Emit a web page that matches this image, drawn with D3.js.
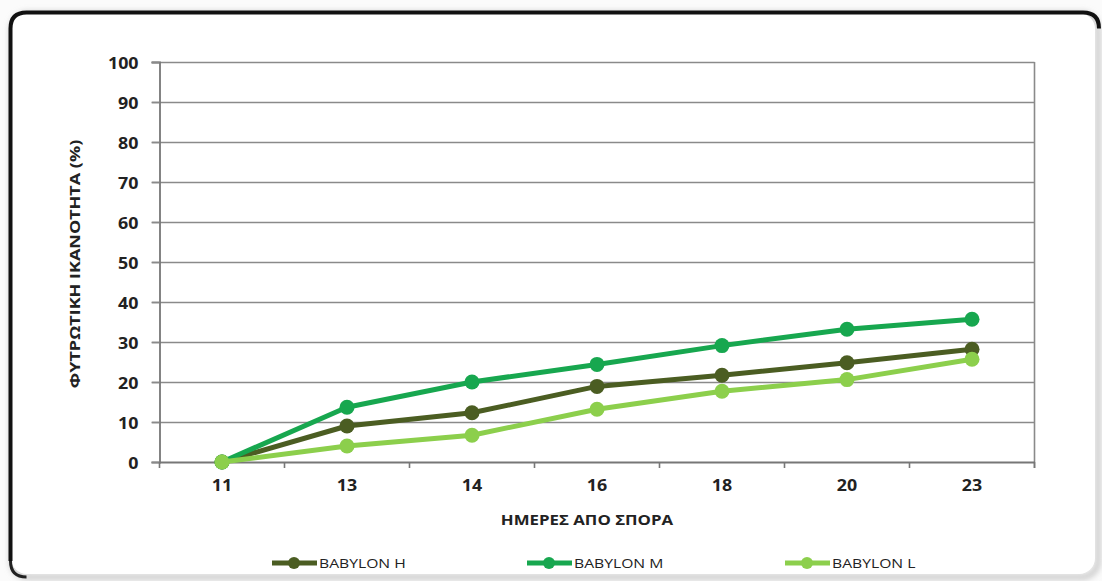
<!DOCTYPE html>
<html>
<head>
<meta charset="utf-8">
<script src="https://cdn.jsdelivr.net/npm/d3@7"></script>
<style>
  html, body { margin: 0; padding: 0; background: #fbfbfb; }
  svg { display: block; font-family: "Open Sans", "Liberation Sans", sans-serif; }
</style>
</head>
<body>
<svg id="chart" width="1102" height="581"></svg>
<script>
// ---- data ----
const categories = ["11", "13", "14", "16", "18", "20", "23"];
const seriesNames = ["BABYLON H", "BABYLON M", "BABYLON L"];
const babylonH = [0, 9.0, 12.3, 18.9, 21.7, 24.8, 28.2];
const babylonM = [0, 13.7, 20.0, 24.4, 29.1, 33.2, 35.7];
const babylonL = [0, 4.0, 6.7, 13.2, 17.7, 20.6, 25.7];
const yTicks = [0, 10, 20, 30, 40, 50, 60, 70, 80, 90, 100];
const yTitle = "ΦΥΤΡΩΤΙΚΗ ΙΚΑΝΟΤΗΤΑ (%)";
const xTitle = "ΗΜΕΡΕΣ ΑΠΟ ΣΠΟΡΑ";

const colors = ["#4b5d22", "#17a74f", "#8ccf4c"];
const series = [babylonH, babylonM, babylonL].map((vals, i) => ({
  name: seriesNames[i], color: colors[i],
  points: categories.map((c, j) => ({ c, v: vals[j] }))
}));

const svg = d3.select("#chart");
const SX = 1.15; // horizontal text stretch of the original picture

// ---- card background ----
const defs = svg.append("defs");
const blur = defs.append("filter").attr("id", "blur").attr("x", "-5%").attr("y", "-5%").attr("width", "110%").attr("height", "110%");
blur.append("feGaussianBlur").attr("stdDeviation", 3);
svg.append("rect").attr("x", 12).attr("y", 14).attr("width", 1086).attr("height", 563)
  .attr("rx", 16).attr("fill", "none").attr("stroke", "#b5b5b5").attr("stroke-width", 4)
  .attr("filter", "url(#blur)");
svg.append("rect").attr("x", 11).attr("y", 13).attr("width", 1084).attr("height", 561)
  .attr("rx", 16).attr("fill", "#ffffff");
const R = 16, L0 = 10.5, T0 = 12.5, Rx = 1099, Bx = 577;
svg.append("path")
  .attr("d", `M${L0},${Bx - R} L${L0},${T0 + R} Q${L0},${T0} ${L0 + R},${T0} L${Rx - R},${T0} Q${Rx},${T0} ${Rx},${T0 + R}`)
  .attr("fill", "none").attr("stroke", "#111").attr("stroke-width", 4);
svg.append("path")
  .attr("d", `M${L0},${Bx - R} Q${L0},${Bx} ${L0 + R},${Bx}`)
  .attr("fill", "none").attr("stroke", "#222").attr("stroke-width", 3);

// ---- scales ----
const x = d3.scaleBand().domain(categories).range([159.5, 1034.5]);
const y = d3.scaleLinear().domain([0, 100]).range([462, 62]);
const cx = c => x(c) + x.bandwidth() / 2;

// gridlines
svg.append("g").selectAll("line").data(yTicks.filter(t => t > 0)).join("line")
  .attr("x1", 152).attr("x2", x.range()[1])
  .attr("y1", d => Math.round(y(d)) + 0.5).attr("y2", d => Math.round(y(d)) + 0.5)
  .attr("stroke", "#8a8a8a").attr("stroke-width", 1.6);
svg.append("line").attr("x1", x.range()[1]).attr("x2", x.range()[1])
  .attr("y1", y(100)).attr("y2", y(0) + 6)
  .attr("stroke", "#8a8a8a").attr("stroke-width", 1.6);

// y axis
const yAxis = svg.append("g").attr("transform", `translate(${x.range()[0]},0)`)
  .call(d3.axisLeft(y).tickValues(yTicks).tickSize(8).tickPadding(0).tickFormat(d3.format("d")));
yAxis.select(".domain").attr("stroke", "#777").attr("stroke-width", 1.8);
yAxis.selectAll(".tick line").attr("stroke", "#8a8a8a").attr("stroke-width", 1.6);
yAxis.selectAll(".tick text")
  .attr("x", 0).attr("dy", null).attr("dominant-baseline", "central")
  .attr("transform", `translate(-21,0) scale(${SX},1)`)
  .attr("font-family", "'Open Sans', sans-serif")
  .attr("font-size", 15.5).attr("font-weight", 700).attr("fill", "#222");

// x axis
const xAxis = svg.append("g").attr("transform", `translate(0,${y(0)})`)
  .call(d3.axisBottom(x).tickSize(0).tickPadding(0));
xAxis.select(".domain").attr("stroke", "#777").attr("stroke-width", 2.2);
xAxis.selectAll(".tick text")
  .attr("y", 0).attr("dy", null)
  .attr("transform", `translate(0,29) scale(${SX},1)`)
  .attr("font-family", "'Open Sans', sans-serif")
  .attr("font-size", 15.5).attr("font-weight", 700).attr("fill", "#222");
const bounds = d3.range(categories.length + 1).map(i => x.range()[0] + i * x.step());
svg.append("g").selectAll("line").data(bounds).join("line")
  .attr("x1", d => d).attr("x2", d => d).attr("y1", y(0)).attr("y2", y(0) + 6)
  .attr("stroke", "#777").attr("stroke-width", 1.6);

// axis titles
svg.append("text")
  .attr("transform", `translate(80,${(y(0) + y(100)) / 2 + 2}) rotate(-90) scale(1.24,1)`)
  .attr("text-anchor", "middle")
  .attr("font-size", 14.5).attr("font-weight", 700).attr("fill", "#222")
  .text(yTitle);
svg.append("text")
  .attr("transform", `translate(587,525) scale(1.16,1)`)
  .attr("text-anchor", "middle")
  .attr("font-size", 14.5).attr("font-weight", 700).attr("fill", "#222")
  .text(xTitle);

// ---- lines and markers ----
const line = d3.line().x(d => cx(d.c)).y(d => y(d.v));
const sg = svg.append("g").selectAll("g").data(series).join("g");
sg.append("path").attr("d", d => line(d.points))
  .attr("fill", "none").attr("stroke", d => d.color).attr("stroke-width", 5)
  .attr("stroke-linejoin", "round");
sg.selectAll("circle").data(d => d.points.map(p => ({ ...p, color: d.color }))).join("circle")
  .attr("cx", d => cx(d.c)).attr("cy", d => y(d.v)).attr("r", 7.5)
  .attr("fill", d => d.color);

// ---- legend ----
const legendX = [272, 527, 785];
const lg = svg.append("g").selectAll("g").data(series).join("g")
  .attr("transform", (d, i) => `translate(${legendX[i]},563)`);
lg.append("line").attr("x1", 0).attr("x2", 45).attr("y1", 0).attr("y2", 0)
  .attr("stroke", d => d.color).attr("stroke-width", 5);
lg.append("circle").attr("cx", 22).attr("cy", 0).attr("r", 6).attr("fill", d => d.color);
lg.append("text")
  .attr("transform", `translate(47,0) scale(${SX * 1.05},1)`)
  .attr("dominant-baseline", "central")
  .attr("font-size", 13).attr("fill", "#222")
  .text(d => d.name);
</script>
</body>
</html>
